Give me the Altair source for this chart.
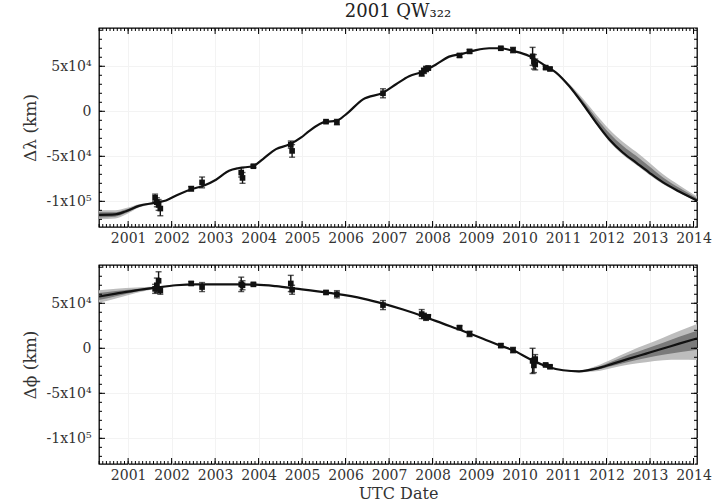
import altair as alt
import numpy as np
import pandas as pd

FONT = "DejaVu Serif"

# ---------------- data (decimal year, km) ----------------
lam_t = [2000.33, 2000.70, 2000.95, 2001.25, 2001.64, 2001.87, 2002.17, 2002.49, 2002.72, 2003.02,
         2003.32, 2003.55, 2003.87, 2004.10, 2004.40, 2004.70, 2004.98, 2005.16, 2005.55, 2005.78,
         2006.01, 2006.40, 2006.86, 2007.16, 2007.46, 2007.78, 2008.08, 2008.38, 2008.70, 2009.00,
         2009.30, 2009.57, 2009.85, 2010.22, 2010.61, 2010.84, 2011.14, 2011.46, 2011.76, 2012.06,
         2012.38, 2012.68, 2012.98, 2013.30, 2013.67, 2014.08]
lam_v = [-115000, -114500, -111000, -105000, -101500, -99000, -92000, -86000, -83000, -76000,
         -66000, -63000, -61000, -53000, -42000, -37000, -29000, -22000, -11500, -10700,
         -3300, 13300, 20700, 30000, 39000, 44000, 52000, 60700, 64000, 68000,
         70000, 70000, 67000, 61500, 50000, 43000, 28000, 7800, -12600, -31000,
         -46000, -57000, -68000, -79000, -89000, -99000]
lam_out_lo = [-5000, -4500, -3500, -1800, -800] + [0] * 31 + [-800, -1500, -2000, -2500, -2500, -2500, -2500, -2000, -1800, -1200]
lam_out_hi = [5000, 4500, 3500, 1800, 800] + [0] * 31 + [2500, 6000, 9000, 11000, 12000, 12000, 11000, 9000, 7000, 4500]
lam_in_lo = [-3000, -2500, -2000, -1000, -300] + [0] * 31 + [-500, -1000, -1200, -1500, -1500, -1500, -1500, -1200, -1000, -800]
lam_in_hi = [3000, 2500, 2000, 1000, 300] + [0] * 31 + [1500, 3500, 5500, 7000, 7500, 7500, 7000, 5500, 4000, 2500]

phi_t = [2000.33, 2000.72, 2001.18, 2001.64, 2002.10, 2002.56, 2003.02, 2003.48, 2003.94, 2004.40,
         2004.86, 2005.62, 2006.40, 2006.86, 2007.32, 2007.78, 2008.24, 2008.70, 2009.16, 2009.53,
         2009.85, 2010.22, 2010.61, 2011.00, 2011.37, 2011.76, 2012.15, 2012.52, 2012.91, 2013.30,
         2013.67, 2014.08]
phi_v = [57500, 60700, 64400, 67400, 70000, 71000, 71000, 71000, 70700, 69000,
         66300, 61500, 55200, 49600, 43000, 35600, 27400, 19300, 10700, 3500,
         -2200, -11500, -20000, -24400, -25600, -22600, -17000, -11500, -5900, -300,
         5200, 11000]
phi_out_lo = [-7000, -5500, -3000, -1200, -500] + [0] * 19 + [-1200, -3000, -4500, -6500, -9500, -13000, -18000, -24000]
phi_out_hi = [7000, 5500, 3000, 1200, 500] + [0] * 19 + [1000, 3000, 5500, 8000, 10000, 12000, 14000, 16000]
phi_in_lo = [-4000, -3000, -1500, -600, 0] + [0] * 19 + [-600, -1500, -2500, -3500, -5000, -7000, -9500, -12500]
phi_in_hi = [4000, 3000, 1500, 600, 0] + [0] * 19 + [500, 1500, 3000, 4500, 5500, 6500, 7500, 8500]

obs_t = [2001.62, 2001.66, 2001.70, 2001.74, 2002.45, 2002.70, 2003.60, 2003.63, 2003.88, 2004.74,
         2004.77, 2005.55, 2005.80, 2006.86, 2007.75, 2007.80, 2007.85, 2007.90, 2008.62, 2008.85,
         2009.57, 2009.85, 2010.30, 2010.33, 2010.36, 2010.60, 2010.70]
obs_lam = [-96000, -101000, -104000, -108000, -86000, -79000, -68000, -74000, -61000, -37000,
           -44000, -11500, -12000, 20000, 42000, 45000, 47000, 48000, 62000, 66500,
           70000, 68000, 61000, 55000, 52000, 48500, 47000]
err_lam = [4000, 5000, 6000, 8000, 2500, 6000, 5000, 6000, 1500, 4000,
           7000, 1500, 3000, 5000, 3000, 3000, 3000, 2000, 2000, 2000,
           1500, 3000, 10000, 8000, 6000, 1500, 1500]
obs_phi = [66000, 70000, 75000, 64000, 72000, 68000, 71000, 70000, 71000, 72000,
           65000, 62000, 60000, 48000, 38000, 36000, 34000, 35000, 23000, 16000,
           3000, -2000, -14000, -19000, -12000, -18500, -20500]
err_phi = [5000, 8000, 10000, 4000, 2000, 5000, 8000, 5000, 1500, 9000,
           5000, 2000, 4000, 5000, 5000, 3000, 3000, 2000, 2000, 3000,
           2000, 3000, 14000, 8000, 5000, 1500, 1500]

YEARS = list(range(2001, 2015))
Y_TICKS = [-100000, -50000, 0, 50000]
Y_LABELS = ["-1x10⁵", "-5x10⁴", "0", "5x10⁴"]
TITLE = "2001 QW₃₂₂"

XDOM = [2000.33, 2014.08]
YDOM = [-128500, 92500]
W, H = 598, 199

label_expr = " : ".join(f"datum.value == {v} ? '{s}'" for v, s in zip(Y_TICKS, Y_LABELS)) + " : ''"

minor_x = [y + m / 12 for y in range(2000, 2015) for m in range(12) if XDOM[0] <= y + m / 12 <= XDOM[1]]
minor_y = [v for v in range(-120000, 90001, 10000)]


def panel(ct, cv, olo, ohi, ilo, ihi, ov, oe, ytitle, xtitle):
    curve = pd.DataFrame({"t": ct, "v": cv,
                          "olo": np.add(cv, olo), "ohi": np.add(cv, ohi),
                          "ilo": np.add(cv, ilo), "ihi": np.add(cv, ihi)})
    obs = pd.DataFrame({"t": obs_t, "v": ov})
    obs["lo"] = obs["v"] - np.array(oe)
    obs["hi"] = obs["v"] + np.array(oe)

    xaxis = alt.Axis(values=YEARS, format="d", ticks=False, domain=False, grid=True,
                     gridColor="#f3f3f3", labelFont=FONT, labelFontSize=14, labelColor="#333",
                     labelPadding=4, labelFlush=False, titleFont=FONT, titleFontSize=16,
                     titleFontWeight="normal", titleColor="#333", titlePadding=3)
    yaxis = alt.Axis(values=Y_TICKS, labelExpr=label_expr, ticks=False, domain=False, grid=True,
                     gridColor="#f3f3f3", labelFont=FONT, labelFontSize=14, labelColor="#333",
                     labelPadding=8, titleFont=FONT, titleFontSize=17, titleFontWeight="normal",
                     titleColor="#333", titlePadding=7)
    xs = alt.Scale(domain=XDOM, nice=False, zero=False)
    ys = alt.Scale(domain=YDOM, nice=False, zero=False)

    def X(f="t"):
        return alt.X(f"{f}:Q", scale=xs, axis=xaxis, title=xtitle)

    def Y(f):
        return alt.Y(f"{f}:Q", scale=ys, axis=yaxis, title=ytitle)

    base = alt.Chart(curve)
    outer = base.mark_area(color="#bdbdbd", interpolate="monotone", clip=True).encode(
        x=X(), y=Y("olo"), y2="ohi")
    inner = base.mark_area(color="#7a7a7a", interpolate="monotone", clip=True).encode(
        x=X(), y=Y("ilo"), y2="ihi")
    line = base.mark_line(color="#111", strokeWidth=2.2, interpolate="monotone", clip=True).encode(
        x=X(), y=Y("v"))

    ob = alt.Chart(obs)
    bars = ob.mark_rule(color="#111", strokeWidth=1.4).encode(x=X(), y=Y("lo"), y2="hi")
    cap_lo = ob.mark_tick(color="#111", orient="horizontal", size=6, thickness=1.4).encode(x=X(), y=Y("lo"))
    cap_hi = ob.mark_tick(color="#111", orient="horizontal", size=6, thickness=1.4).encode(x=X(), y=Y("hi"))
    pts = ob.mark_square(color="#111", size=32, opacity=1).encode(x=X(), y=Y("v"))

    # inward ticks on all four sides
    majx = alt.Chart(pd.DataFrame({"t": YEARS}))
    minx = alt.Chart(pd.DataFrame({"t": minor_x}))
    majy = alt.Chart(pd.DataFrame({"v": Y_TICKS}))
    miny = alt.Chart(pd.DataFrame({"v": minor_y}))
    tk = dict(color="black", strokeWidth=1)
    ticks = [
        majx.mark_rule(**tk).encode(x=X(), y=alt.value(0), y2=alt.value(6)),
        majx.mark_rule(**tk).encode(x=X(), y=alt.value(H), y2=alt.value(H - 6)),
        minx.mark_rule(**tk).encode(x=X(), y=alt.value(0), y2=alt.value(3)),
        minx.mark_rule(**tk).encode(x=X(), y=alt.value(H), y2=alt.value(H - 3)),
        majy.mark_rule(**tk).encode(y=Y("v"), x=alt.value(0), x2=alt.value(6)),
        majy.mark_rule(**tk).encode(y=Y("v"), x=alt.value(W), x2=alt.value(W - 6)),
        miny.mark_rule(**tk).encode(y=Y("v"), x=alt.value(0), x2=alt.value(3)),
        miny.mark_rule(**tk).encode(y=Y("v"), x=alt.value(W), x2=alt.value(W - 3)),
    ]
    return alt.layer(outer, inner, line, bars, cap_lo, cap_hi, pts, *ticks).properties(width=W, height=H)


top = panel(lam_t, lam_v, lam_out_lo, lam_out_hi, lam_in_lo, lam_in_hi, obs_lam, err_lam, "Δλ (km)", None)
bottom = panel(phi_t, phi_v, phi_out_lo, phi_out_hi, phi_in_lo, phi_in_hi, obs_phi, err_phi, "Δϕ (km)", "UTC Date")

chart = alt.vconcat(top, bottom, spacing=17).properties(
    title=alt.TitleParams(TITLE, font=FONT, fontSize=18, fontWeight="normal", color="#222",
                          anchor="middle", frame="group", offset=6),
    padding={"left": 20, "top": 2, "right": 0, "bottom": 0},
).configure_view(stroke="black", strokeWidth=1.3)

chart.save("out.html", embed_options={"renderer": "svg", "actions": False})
